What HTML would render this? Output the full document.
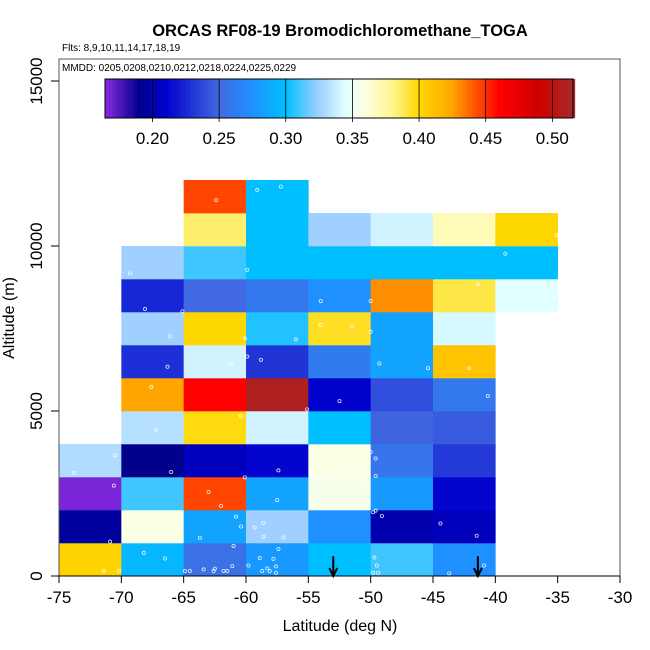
<!DOCTYPE html>
<html><head><meta charset="utf-8"><style>
body{margin:0;background:#fff;}
svg{display:block;font-family:"Liberation Sans",Arial,sans-serif;}
</style></head><body>
<svg id="chart" width="650" height="650" viewBox="0 0 650 650">
<text x="340" y="36" text-anchor="middle" font-size="16.5" font-weight="bold">ORCAS RF08-19 Bromodichloromethane_TOGA</text>
<text x="62" y="51" font-size="10">Flts: 8,9,10,11,14,17,18,19</text>
<g id="cells"></g>
<g id="pts"></g>
<g id="arrows"></g>
<rect x="59" y="59" width="561" height="517" fill="none" stroke="#555" stroke-width="1"/>
<text x="62" y="71" font-size="10">MMDD: 0205,0208,0210,0212,0218,0224,0225,0229</text>
<g id="cbar"></g>
<g id="axes"></g>
<text x="340" y="631" text-anchor="middle" font-size="16">Latitude (deg N)</text>
<text transform="translate(14,318) rotate(-90)" text-anchor="middle" font-size="16">Altitude (m)</text>
</svg>
<script>
const latEdges=[-75,-70,-65,-60,-55,-50,-45,-40,-35,-30];
const altTicks=[0,5000,10000,15000];
const latTicks=[-75,-70,-65,-60,-55,-50,-45,-40,-35,-30];
const cbTicks=[0.20,0.25,0.30,0.35,0.40,0.45,0.50];
const row0=[0.402,0.295,0.255,0.28,0.30,0.31,0.275,null,null];
const row1=[0.195,0.358,0.285,0.325,0.275,0.20,0.205,null,null];
const row2=[0.167,0.31,0.445,0.285,0.355,0.28,0.212,null,null];
const row3=[0.33,0.19,0.205,0.212,0.358,0.258,0.232,null,null];
const row4=[null,0.332,0.398,0.34,0.30,0.248,0.245,null,null];
const row5=[null,0.425,0.46,0.51,0.21,0.24,0.26,null,null];
const row6=[null,0.228,0.34,0.23,0.262,0.285,0.41,null,null];
const row7=[null,0.325,0.40,0.305,0.395,0.285,0.342,null,null];
const row8=[null,0.225,0.25,0.26,0.275,0.43,0.39,0.345,null];
const row9=[null,0.325,0.31,0.30,0.30,0.30,0.30,0.30,null];
const row10=[null,null,0.385,0.30,0.325,0.34,0.37,0.40,null];
const row11=[null,null,0.445,0.30,null,null,null,null,null];
const rows=[row0,row1,row2,row3,row4,row5,row6,row7,row8,row9,row10,row11];
const ptLat=[-62.4,-59.1,-57.2,-35.1,-39.2,-59.9,-69.3,-41.4,-35.3,-68.1,-65.1,-54.0,-50.0,-54.0,-51.5,-50,-66.1,-60.1,-56.0,-59.9,-58.8,-61.2,-66.3,-49.3,-45.4,-42.1,-67.6,-52.5,-55.1,-40.6,-60.4,-67.2,-70.5,-73.8,-66.0,-57.4,-50.0,-49.6,-49.6,-54.8,-53.1,-53.1,-70.6,-60.1,-63.0,-62.0,-57.5,-50.5,-65.6,-60.8,-60.4,-59.3,-58.6,-63.7,-58.6,-57.0,-70.9,-49.8,-49.6,-49.1,-44.4,-41.5,-68.2,-66.5,-71.4,-70.2,-61.0,-57.4,-58.9,-57.8,-59.8,-57.6,-58.3,-58.7,-58.1,-57.6,-64.9,-64.5,-63.4,-62.5,-62.6,-61.8,-61.5,-61.1,-49.7,-49.5,-49.8,-49.4,-43.7,-40.9];
const ptAlt=[11390,11700,11800,10330,9770,9280,9170,8840,8430,8090,8020,8330,8330,7610,7560,7400,7270,7200,7170,6650,6550,6440,6340,6440,6300,6300,5730,5300,5050,5450,4850,4430,3660,3130,3150,3200,3760,3560,3030,3090,3160,2960,2740,2990,2540,2120,2300,2770,1820,1800,1500,1470,1610,1160,1190,1170,1040,1930,1980,1820,1590,1220,700,530,160,160,910,820,540,520,320,290,230,150,150,100,150,150,200,220,150,150,150,300,560,320,100,100,80,320];
const arrowLat=[-53.0,-41.4];
const cmapV=[0.164,0.19,0.21,0.25,0.275,0.30,0.325,0.345,0.36,0.38,0.40,0.425,0.445,0.46,0.49,0.516];
const cmapC=["#8A2BE2","#00008B","#0000CD","#4169E1","#1E90FF","#00BFFF","#A0D0FF","#E0FFFF","#FFFFE0","#FFF68F","#FFD700","#FFA500","#FF4500","#FF0000","#CD0000","#A52A2A"];
const NS="http://www.w3.org/2000/svg";
const X=l=>59+(l+75)*12.4667;
const Y=a=>576-a*0.033;
const CB=v=>105+(v-0.1644)*1333;
function hx(c){return [1,3,5].map(i=>parseInt(c.substr(i,2),16));}
function cmap(v){
  if(v<=cmapV[0])return cmapC[0];
  for(let i=1;i<cmapV.length;i++){
    if(v<=cmapV[i]){const t=(v-cmapV[i-1])/(cmapV[i]-cmapV[i-1]);const a=hx(cmapC[i-1]),b=hx(cmapC[i]);
      return "rgb("+a.map((x,k)=>Math.round(x+(b[k]-x)*t)).join(",")+")";}
  }
  return cmapC[cmapC.length-1];
}
function mk(tag,attrs,parent){const e=document.createElementNS(NS,tag);for(const k in attrs)e.setAttribute(k,attrs[k]);parent.appendChild(e);return e;}
const gc=document.getElementById('cells');
rows.forEach((r,ri)=>r.forEach((v,ci)=>{
  if(v===null)return;
  const e=mk('rect',{x:X(latEdges[ci]),y:Y((ri+1)*1000),width:X(latEdges[ci+1])-X(latEdges[ci])+0.3,height:Y(ri*1000)-Y((ri+1)*1000)+0.3,fill:cmap(v)},gc);
  
  
}));
const gp=document.getElementById('pts');
ptLat.forEach((l,i)=>{
  const e=mk('circle',{cx:X(l),cy:Y(ptAlt[i]),r:1.6,fill:'none',stroke:'#fff','stroke-width':0.8,opacity:0.85},gp);
  
  
});
const ga=document.getElementById('arrows');
arrowLat.forEach(l=>{
  const x=X(l);
  const e=mk('path',{d:`M${x},${Y(600)} L${x},${Y(0)} M${x-4},${Y(0)-8} L${x},${Y(0)} L${x+4},${Y(0)-8}`,stroke:'#000','stroke-width':2,fill:'none'},ga);
  
  
});
const gb=document.getElementById('cbar');
for(let v=0.1644;v<0.5157;v+=0.0025){
  const e=mk('rect',{x:CB(v),y:79,width:3.6,height:39,fill:cmap(v+0.00125)},gb);
  
  
}
mk('rect',{x:105,y:79,width:468,height:39,fill:'none',stroke:'#000','stroke-width':1},gb);
cbTicks.forEach(t=>{
  const x=CB(t);
  const l=mk('line',{x1:x,y1:79,x2:x,y2:122,stroke:'#000','stroke-width':0.8},gb);
  
  
  const tx=mk('text',{x:x,y:144,'text-anchor':'middle','font-size':17},gb);
  tx.textContent=t.toFixed(2);
  
  
});
const gx=document.getElementById('axes');
mk('line',{x1:59,y1:576,x2:620,y2:576,stroke:'#000'},gx);
latTicks.forEach(t=>{
  const x=X(t);
  mk('line',{x1:x,y1:576,x2:x,y2:583,stroke:'#000'},gx);
  const tx=mk('text',{x:x,y:603,'text-anchor':'middle','font-size':17},gx);
  tx.textContent=t;
  
  
});
altTicks.forEach(t=>{
  const y=Y(t);
  mk('line',{x1:51,y1:y,x2:59,y2:y,stroke:'#000'},gx);
  const tx=mk('text',{x:0,y:0,'text-anchor':'middle','font-size':17,transform:`translate(42,${y}) rotate(-90)`},gx);
  tx.textContent=t;
  
  
});
</script>
</body></html>
